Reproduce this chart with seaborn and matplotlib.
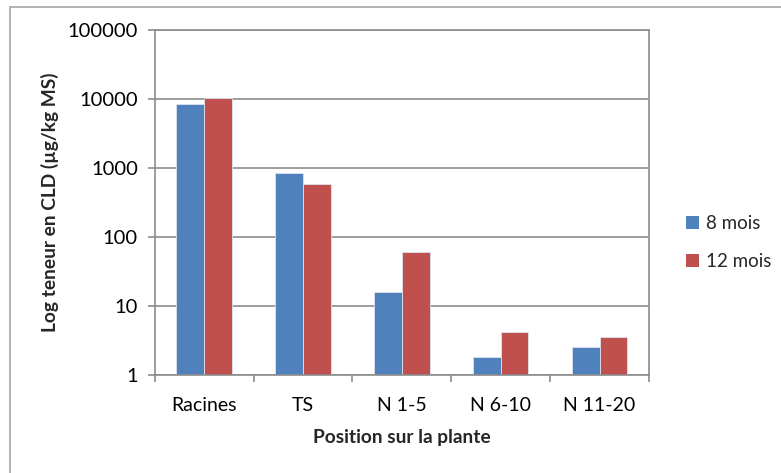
import matplotlib
matplotlib.use("Agg")
import matplotlib.pyplot as plt
import matplotlib.patches as mpatches
import seaborn as sns
import pandas as pd

# Concentrations of CLD by plant position and age
positions = ["Racines", "TS", "N 1-5", "N 6-10", "N 11-20"]
ages = ["8 mois", "12 mois"]
values_8 = [8400, 850, 16, 1.84, 2.55]
values_12 = [10500, 590, 60, 4.2, 3.55]
y_ticks = [1, 10, 100, 1000, 10000, 100000]

colors = ["#4F81BD", "#C0504D"]

df = pd.DataFrame({
    "Position": positions * 2,
    "Age": [ages[0]] * len(positions) + [ages[1]] * len(positions),
    "Valeur": values_8 + values_12,
})

sns.set_theme(style="white")
plt.rcParams["font.family"] = ["Lato", "DejaVu Sans"]

fig = plt.figure(figsize=(7.81, 4.73), dpi=100)
ax = fig.add_axes([0.198, 0.2072, 0.633, 0.7294])

sns.barplot(data=df, x="Position", y="Valeur", hue="Age", order=positions,
            hue_order=ages, palette=colors, width=0.56, gap=0,
            edgecolor="#DCE3EE", linewidth=0.6, saturation=1, ax=ax,
            errorbar=None, legend=True)

ax.set_yscale("log")
ax.set_ylim(1, 100000)
ax.set_xlim(-0.5, len(positions) - 0.5)
ax.set_yticks(y_ticks)
ax.set_yticklabels([str(v) for v in y_ticks])
ax.yaxis.set_minor_locator(matplotlib.ticker.NullLocator())

grid_c = "#8C8C8C"
ax.yaxis.grid(True, color=grid_c, linewidth=1.2)
ax.set_axisbelow(True)
for s in ax.spines.values():
    s.set_color(grid_c)
    s.set_linewidth(1.2)

# Category boundaries carry the x tick marks
ax.set_xticks([i + 0.5 for i in range(-1, len(positions))], minor=True)
ax.tick_params(axis="x", which="major", length=0, pad=16, labelsize=14, colors="black")
ax.tick_params(axis="x", which="minor", length=5, width=1.2, color=grid_c, direction="out", bottom=True)
ax.tick_params(axis="y", which="major", length=5, width=1.2, color=grid_c, direction="out", left=True,
               labelsize=14.5, colors="black", pad=7)

ax.set_xlabel("Position sur la plante", fontsize=13.8, fontweight="bold", labelpad=11)
ax.set_ylabel("Log teneur en CLD (µg/kg MS)", fontsize=13.8, fontweight="bold", labelpad=6)

handles = [mpatches.Patch(facecolor=c, edgecolor="none") for c in colors]
ax.legend(handles, ages, loc="center left", bbox_to_anchor=(1.04, 0.384), frameon=False,
          fontsize=13.5, handlelength=0.7, handleheight=0.7, handletextpad=0.4,
          labelspacing=1.1)

# Chart area border
fig.patches.append(mpatches.Rectangle((10 / 781, -0.1), 1.2, 1 - 7 / 473 + 0.1,
                                      transform=fig.transFigure, fill=False,
                                      edgecolor="#A6A6A6", linewidth=1.2))

fig.savefig("out.png", dpi=100, facecolor="white")
